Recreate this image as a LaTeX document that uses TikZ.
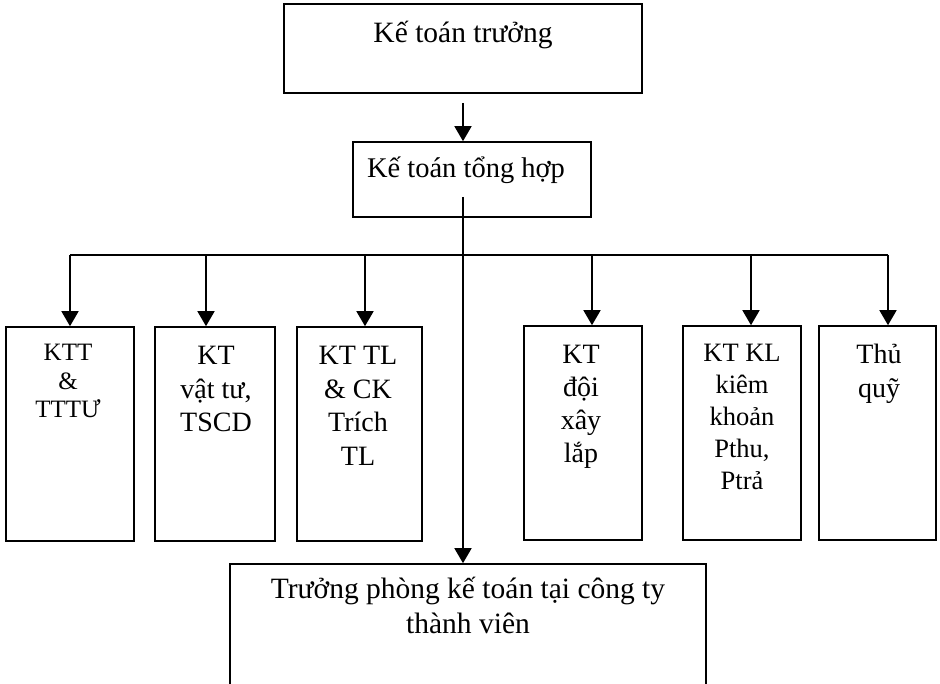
\documentclass[tikz,border=0pt]{standalone}
\usepackage{fontspec}
\setmainfont{Liberation Serif}
\usetikzlibrary{arrows.meta}
\newcommand{\boxtext}[3]{{\fontsize{#1}{#2}\selectfont\setlength{\tabcolsep}{0pt}\begin{tabular}[t]{c}#3\end{tabular}}}
\begin{document}
\begin{tikzpicture}[x=1pt,y=-1pt,
  box/.style={draw, line width=1.6pt, rectangle, inner sep=0pt},
  lbl/.style={anchor=base, inner sep=0pt},
  link/.style={line width=1.6pt},
  arr/.style={line width=1.6pt, -{Triangle[length=15pt,width=17pt]}}]
\clip (0,0) rectangle (940,684);
\fill[white] (0,0) rectangle (940,684);

% upper levels
\node[box, minimum width=358pt, minimum height=89pt] (top) at (463,48.5) {};
\node[lbl] (ttop) at (463,43) {\boxtext{29.5}{34}{Kế toán trưởng}};
\node[box, minimum width=238pt, minimum height=75pt] (mid) at (472,179.5) {};
\node[lbl] (tmid) at (466,178) {\boxtext{28.5}{34}{Kế toán tổng hợp}};

% accountant boxes
\node[box, minimum width=128pt, minimum height=214pt] (b1) at (70,434) {};
\node[box, minimum width=120pt, minimum height=214pt] (b2) at (215,434) {};
\node[box, minimum width=125pt, minimum height=214pt] (b3) at (359.5,434) {};
\node[box, minimum width=118pt, minimum height=214pt] (b4) at (583,433) {};
\node[box, minimum width=118pt, minimum height=214pt] (b5) at (742,433) {};
\node[box, minimum width=117pt, minimum height=214pt] (b6) at (877.5,433) {};

\node[lbl] (t1) at (68,361) {\boxtext{25}{28.5}{KTT\\\&\\TTTƯ}};
\node[lbl] (t2) at (216,365) {\boxtext{28}{33.5}{KT\\vật tư,\\TSCD}};
\node[lbl] (t3) at (358,365) {\boxtext{28}{33.5}{KT TL\\\& CK\\Trích\\TL}};
\node[lbl] (t4) at (581,364) {\boxtext{28}{33}{KT\\đội\\xây\\lắp}};
\node[lbl] (t5) at (742,362) {\boxtext{26.5}{32}{KT KL\\kiêm\\khoản\\Pthu,\\Ptrả}};
\node[lbl] (t6) at (879,364) {\boxtext{28}{33.5}{Thủ\\quỹ}};

% member company box (runs past the lower edge)
\node[box, minimum width=476pt, minimum height=160pt] (bot) at (468,644) {};
\node[lbl] (tbot) at (468,598) {\boxtext{29.5}{35}{Trưởng phòng kế toán tại công ty\\thành viên}};

% connectors
\coordinate (a0) at (463,103);
\draw[arr] (a0) -- (a0 |- mid.north);
\coordinate (src) at (463,197);
\draw[arr] (src) -- (src |- bot.north);

\coordinate (d1) at (70,255);
\coordinate (d2) at (206,255);
\coordinate (d3) at (365,255);
\coordinate (d4) at (592,255);
\coordinate (d5) at (751,255);
\coordinate (d6) at (888,255);
\draw[link] (d1) -- (d6);
\draw[arr] (d1) -- (d1 |- b1.north);
\draw[arr] (d2) -- (d2 |- b2.north);
\draw[arr] (d3) -- (d3 |- b3.north);
\draw[arr] (d4) -- (d4 |- b4.north);
\draw[arr] (d5) -- (d5 |- b5.north);
\draw[arr] (d6) -- (d6 |- b6.north);
\end{tikzpicture}
\end{document}
